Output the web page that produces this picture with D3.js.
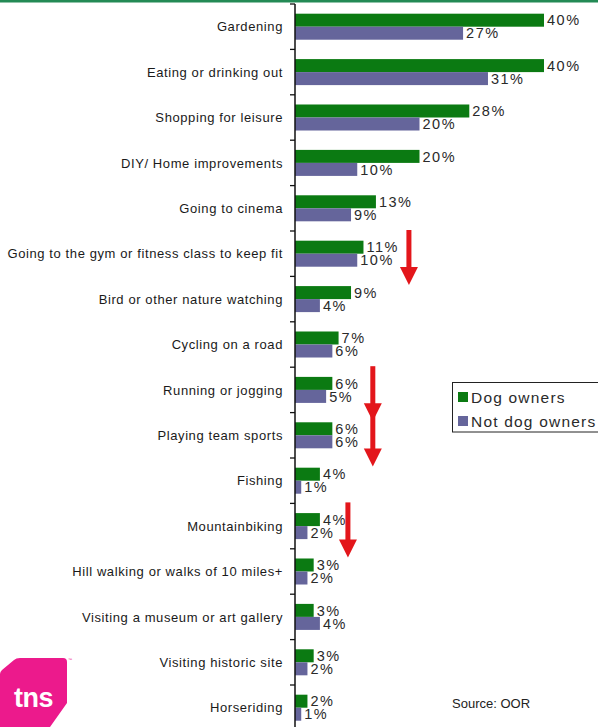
<!DOCTYPE html>
<html>
<head>
<meta charset="utf-8">
<script src="https://cdn.jsdelivr.net/npm/d3@7"></script>
<style>
  html, body { margin: 0; padding: 0; background: #fff; }
  svg { display: block; }
  text { font-family: "Liberation Sans", Arial, sans-serif; }
</style>
</head>
<body>
<svg id="chart" width="598" height="727"></svg>
<script>
// Leisure activities: dog owners vs. not dog owners (%)
const categories = [
  "Gardening",
  "Eating or drinking out",
  "Shopping for leisure",
  "DIY/ Home improvements",
  "Going to cinema",
  "Going to the gym or fitness class to keep fit",
  "Bird or other nature watching",
  "Cycling on a road",
  "Running or jogging",
  "Playing team sports",
  "Fishing",
  "Mountainbiking",
  "Hill walking or walks of 10 miles+",
  "Visiting a museum or art gallery",
  "Visiting historic site",
  "Horseriding"
];
const dogOwners    = [40, 40, 28, 20, 13, 11, 9, 7, 6, 6, 4, 4, 3, 3, 3, 2];
const notDogOwners = [27, 31, 20, 10, 9, 10, 4, 6, 5, 6, 1, 2, 2, 4, 2, 1];
const seriesNames  = ["Dog owners", "Not dog owners"];
const seriesColors = ["#0b7a12", "#65659b"];

// Activities flagged with a downward arrow, with the x (in %) where the arrow sits
const decliningActivities = [
  { name: "Going to the gym or fitness class to keep fit", at: 18.3 },
  { name: "Running or jogging", at: 12.5 },
  { name: "Playing team sports", at: 12.5 },
  { name: "Mountainbiking", at: 8.5 }
];

const svg = d3.select("#chart");

// top rule
svg.append("rect").attr("x", 0).attr("y", 0).attr("width", 598).attr("height", 2.5)
  .attr("fill", "#238a55");

const axisX = 295;
const x = d3.scaleLinear().domain([0, 40]).range([axisX, 544]);
const bandTop = 4, step = 45.4;
const y = d3.scaleBand()
  .domain(categories)
  .range([bandTop, bandTop + step * categories.length])
  .paddingInner(0.427)
  .paddingOuter(0.2135);
const barH = y.bandwidth() / 2;

const rows = categories.map((c, i) => ({ c, v: [dogOwners[i], notDogOwners[i]] }));

// bars
const g = svg.append("g");
rows.forEach(r => {
  r.v.forEach((v, s) => {
    g.append("rect")
      .attr("x", x(0))
      .attr("y", y(r.c) + s * barH)
      .attr("width", x(v) - x(0))
      .attr("height", barH)
      .attr("fill", seriesColors[s]);
  });
});

// value labels
rows.forEach(r => {
  r.v.forEach((v, s) => {
    g.append("text")
      .attr("x", x(v) + 3)
      .attr("y", y(r.c) + s * barH + barH / 2)
      .attr("dy", "0.36em")
      .attr("font-size", 14.5)
      .attr("letter-spacing", 1.5)
      .attr("fill", "#2a2a2a")
      .text(v + "%");
  });
});

// category axis
svg.append("line")
  .attr("x1", axisX).attr("x2", axisX)
  .attr("y1", bandTop).attr("y2", 727)
  .attr("stroke", "#111").attr("stroke-width", 1.5);
d3.range(categories.length + 1).forEach(i => {
  const ty = bandTop + i * step;
  svg.append("line")
    .attr("x1", axisX - 5).attr("x2", axisX)
    .attr("y1", ty).attr("y2", ty)
    .attr("stroke", "#111").attr("stroke-width", 1.3);
});
svg.append("g").selectAll("text")
  .data(categories)
  .join("text")
  .attr("x", 283)
  .attr("y", d => y(d) + y.bandwidth() / 2)
  .attr("dy", "0.36em")
  .attr("text-anchor", "end")
  .attr("font-size", 13)
  .attr("letter-spacing", 0.6)
  .attr("fill", "#1a1a1a")
  .text(d => d);

// downward arrows
const arrowColor = "#e3161b";
decliningActivities.forEach(a => {
  const ax = x(a.at);
  const top = y(a.name) - y.step() * y.paddingInner() / 2 - 1;
  const tip = top + 55;
  svg.append("rect")
    .attr("x", ax - 2.5).attr("y", top)
    .attr("width", 5).attr("height", tip - top - 16)
    .attr("fill", arrowColor);
  svg.append("path")
    .attr("d", `M${ax - 9},${tip - 18} L${ax + 9},${tip - 18} L${ax},${tip} Z`)
    .attr("fill", arrowColor);
});

// legend
const lg = svg.append("g");
lg.append("rect")
  .attr("x", 452.5).attr("y", 382.5)
  .attr("width", 160).attr("height", 49.5)
  .attr("fill", "#fff").attr("stroke", "#222").attr("stroke-width", 1);
seriesNames.forEach((name, i) => {
  lg.append("rect")
    .attr("x", 458).attr("y", 392 + i * 24)
    .attr("width", 10).attr("height", 10)
    .attr("fill", seriesColors[i]);
  lg.append("text")
    .attr("x", 471).attr("y", 397 + i * 24)
    .attr("dy", "0.36em")
    .attr("font-size", 15.5)
    .attr("letter-spacing", 1.2)
    .attr("fill", "#2a2a2a")
    .text(name);
});

// source note
svg.append("text")
  .attr("x", 452).attr("y", 703)
  .attr("dy", "0.36em")
  .attr("font-size", 13)
  .attr("fill", "#222")
  .text("Source: OOR");

// tns logo
const logo = svg.append("g");
logo.append("path")
  .attr("d", "M20,658 L63,658 Q67,658 67,662 L67,703 L50,727 L0,727 L0,674 Q0,672 2,670 L14,660 Q16,658 20,658 Z")
  .attr("fill", "#ec1a8c");
logo.append("text")
  .attr("x", 14).attr("y", 707)
  .attr("font-size", 27)
  .attr("font-weight", "bold")
  .attr("letter-spacing", -0.5)
  .attr("fill", "#fff")
  .text("tns");
logo.append("text")
  .attr("x", 68).attr("y", 661)
  .attr("font-size", 4)
  .attr("fill", "#ec1a8c")
  .text("™");
</script>
</body>
</html>
